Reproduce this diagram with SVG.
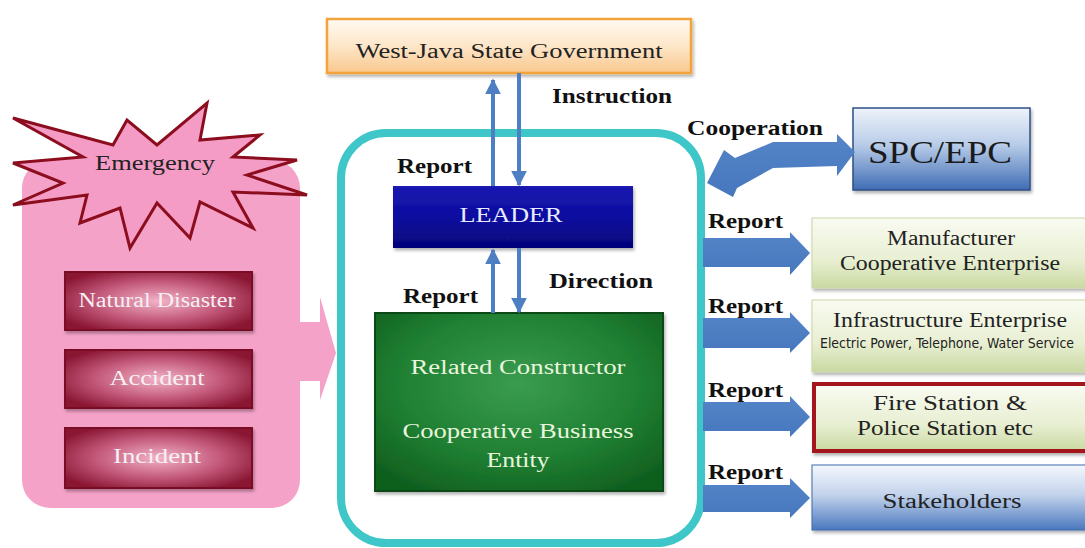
<svg xmlns="http://www.w3.org/2000/svg" width="1085" height="548" viewBox="0 0 1085 548">
<defs>
  <linearGradient id="gGov" x1="0" y1="0" x2="0" y2="1">
    <stop offset="0" stop-color="#fffaf2"/>
    <stop offset="0.5" stop-color="#fde6c8"/>
    <stop offset="1" stop-color="#f9c88e"/>
  </linearGradient>
  <linearGradient id="gLeader" x1="0" y1="0" x2="0" y2="1">
    <stop offset="0" stop-color="#1a1ab0"/>
    <stop offset="0.5" stop-color="#0c0ca0"/>
    <stop offset="1" stop-color="#05057a"/>
  </linearGradient>
  <radialGradient id="gGreen" cx="0.5" cy="0.4" r="0.7">
    <stop offset="0" stop-color="#3a9c50"/>
    <stop offset="0.6" stop-color="#1f7f32"/>
    <stop offset="1" stop-color="#0f5e1e"/>
  </radialGradient>
  <linearGradient id="gSpc" x1="0" y1="0" x2="0" y2="1">
    <stop offset="0" stop-color="#eef3fa"/>
    <stop offset="0.45" stop-color="#b8cce8"/>
    <stop offset="1" stop-color="#3f6db5"/>
  </linearGradient>
  <linearGradient id="gPale" x1="0" y1="0" x2="0" y2="1">
    <stop offset="0" stop-color="#f9fbf2"/>
    <stop offset="0.6" stop-color="#e8efd2"/>
    <stop offset="1" stop-color="#c9d9a2"/>
  </linearGradient>
  <linearGradient id="gStake" x1="0" y1="0" x2="0" y2="1">
    <stop offset="0" stop-color="#f4f7fc"/>
    <stop offset="0.45" stop-color="#c4d4ec"/>
    <stop offset="1" stop-color="#4a78bf"/>
  </linearGradient>
  <radialGradient id="gPinkBox" cx="0.5" cy="0.5" r="0.6">
    <stop offset="0" stop-color="#f2b3c8"/>
    <stop offset="0.55" stop-color="#c45a7c"/>
    <stop offset="1" stop-color="#8a1633"/>
  </radialGradient>
  <linearGradient id="gArrow" x1="0" y1="0" x2="0" y2="1">
    <stop offset="0" stop-color="#5585c8"/>
    <stop offset="1" stop-color="#4677bd"/>
  </linearGradient>
  <marker id="ah" viewBox="0 0 10 10" refX="9" refY="5" markerWidth="4" markerHeight="4" orient="auto">
    <path d="M0,0 L10,5 L0,10 z" fill="#4f7fc3"/>
  </marker>
  <filter id="sh" x="-5%" y="-5%" width="115%" height="125%">
    <feDropShadow dx="1.5" dy="2.5" stdDeviation="1.5" flood-color="#000" flood-opacity="0.3"/>
  </filter>
</defs>
<style>
  .lbl { font-family: "Liberation Serif", serif; font-weight: bold; font-size: 22px; fill: #111; }
  .serif { font-family: "Liberation Serif", serif; font-size: 20px; }
  .dark { fill: #222; }
  .light { fill: #f6f0f2; }
  .flow { stroke: #4f7fc3; stroke-width: 4; fill: none; marker-end: url(#ah); }
  .block { fill: url(#gArrow); }
</style>
<rect width="1085" height="548" fill="#ffffff"/>

<!-- Left emergency group -->
<g id="emergency-panel">
  <rect x="22" y="160" width="278" height="348" rx="28" fill="#f5a2c9"/>
  <polygon points="298,322 320,322 320,297 336,353 320,400 320,381 298,381" fill="#f5a2c9"/>
</g>
<g id="emergency">
  <polygon points="13,118 113,145 127,120 157,145 207,103 200,140 260,135 233,157 297,160 247,175 307,195 233,192 253,228 200,202 190,238 157,203 130,248 120,208 80,223 87,195 13,205 63,183 13,163 83,157" fill="#f59cc6" stroke="#8b0d1e" stroke-width="3" stroke-linejoin="miter"/>
  <text class="serif dark" x="155" y="170" text-anchor="middle" textLength="120" lengthAdjust="spacingAndGlyphs">Emergency</text>
</g>
<g id="natural-disaster">
  <rect x="65" y="272" width="187" height="58" fill="url(#gPinkBox)" stroke="#7a1028" stroke-width="2" filter="url(#sh)"/>
  <text class="serif light" x="157" y="307" text-anchor="middle" textLength="157" lengthAdjust="spacingAndGlyphs">Natural Disaster</text>
</g>
<g id="accident">
  <rect x="65" y="350" width="187" height="58" fill="url(#gPinkBox)" stroke="#7a1028" stroke-width="2" filter="url(#sh)"/>
  <text class="serif light" x="157" y="385" text-anchor="middle" textLength="95" lengthAdjust="spacingAndGlyphs">Accident</text>
</g>
<g id="incident">
  <rect x="65" y="428" width="187" height="60" fill="url(#gPinkBox)" stroke="#7a1028" stroke-width="2" filter="url(#sh)"/>
  <text class="serif light" x="157" y="463" text-anchor="middle" textLength="88" lengthAdjust="spacingAndGlyphs">Incident</text>
</g>

<!-- Central cyan container -->
<g id="organization">
  <rect x="341" y="133" width="360" height="410" rx="45" fill="#ffffff" stroke="#3fc6c9" stroke-width="8"/>
</g>

<g id="government">
  <rect x="327" y="19" width="364" height="54" fill="url(#gGov)" stroke="#f2a33a" stroke-width="2.5" filter="url(#sh)"/>
  <text class="serif dark" x="509" y="58" text-anchor="middle" textLength="307" lengthAdjust="spacingAndGlyphs">West-Java State Government</text>
</g>
<g id="leader">
  <rect x="393" y="186" width="240" height="62" fill="url(#gLeader)" filter="url(#sh)"/>
  <text class="serif" fill="#e8ecff" x="511" y="222" text-anchor="middle" textLength="103" lengthAdjust="spacingAndGlyphs">LEADER</text>
</g>
<g id="constructor">
  <rect x="375" y="313" width="288" height="178" fill="url(#gGreen)" stroke="#0c4a16" stroke-width="2" filter="url(#sh)"/>
  <text class="serif" fill="#eaf6dc" x="518" y="374" text-anchor="middle" textLength="215" lengthAdjust="spacingAndGlyphs">Related Constructor</text>
  <text class="serif" fill="#eaf6dc" x="518" y="438" text-anchor="middle" textLength="231" lengthAdjust="spacingAndGlyphs">Cooperative Business</text>
  <text class="serif" fill="#eaf6dc" x="518" y="467" text-anchor="middle" textLength="63" lengthAdjust="spacingAndGlyphs">Entity</text>
</g>

<!-- Right side nodes -->
<g id="spc-epc">
  <rect x="853" y="108" width="177" height="82" fill="url(#gSpc)" stroke="#2d4f86" stroke-width="1.5" filter="url(#sh)"/>
  <text font-family="Liberation Serif, serif" font-size="31" fill="#1a1a1a" x="940" y="163" text-anchor="middle" textLength="144" lengthAdjust="spacingAndGlyphs">SPC/EPC</text>
</g>
<g id="manufacturer">
  <rect x="812" y="218" width="276" height="70" fill="url(#gPale)" stroke="#c9d6a8" stroke-width="1" filter="url(#sh)"/>
  <text class="serif dark" x="951" y="245" text-anchor="middle" textLength="128" lengthAdjust="spacingAndGlyphs">Manufacturer</text>
  <text class="serif dark" x="950" y="270" text-anchor="middle" textLength="220" lengthAdjust="spacingAndGlyphs">Cooperative Enterprise</text>
</g>
<g id="infrastructure">
  <rect x="812" y="300" width="276" height="72" fill="url(#gPale)" stroke="#c9d6a8" stroke-width="1" filter="url(#sh)"/>
  <text class="serif dark" x="950" y="327" text-anchor="middle" textLength="234" lengthAdjust="spacingAndGlyphs">Infrastructure Enterprise</text>
  <text font-family="Liberation Sans Narrow, DejaVu Sans Condensed, sans-serif" font-size="14" fill="#222" x="947" y="348" text-anchor="middle" textLength="254" lengthAdjust="spacingAndGlyphs">Electric Power, Telephone, Water Service</text>
</g>
<g id="fire-police">
  <rect x="814" y="384" width="273" height="67" fill="url(#gPale)" stroke="#a3141c" stroke-width="4" filter="url(#sh)"/>
  <text class="serif dark" x="950" y="410" text-anchor="middle" textLength="154" lengthAdjust="spacingAndGlyphs">Fire Station &amp;</text>
  <text class="serif dark" x="945" y="435" text-anchor="middle" textLength="176" lengthAdjust="spacingAndGlyphs">Police Station etc</text>
</g>
<g id="stakeholders">
  <rect x="812" y="465" width="276" height="65" fill="url(#gStake)" stroke="#3f6aad" stroke-width="1" filter="url(#sh)"/>
  <text class="serif dark" x="952" y="508" text-anchor="middle" textLength="139" lengthAdjust="spacingAndGlyphs">Stakeholders</text>
</g>

<!-- Connectors -->
<g id="connectors">
  <line class="flow" x1="493" y1="186" x2="493" y2="80"/>
  <line class="flow" x1="519" y1="73" x2="519" y2="185"/>
  <line class="flow" x1="493" y1="313" x2="493" y2="250"/>
  <line class="flow" x1="519" y1="248" x2="519" y2="312"/>
  <polygon class="block" points="855,152 837,134 837,142 773,142 735,158 724,150 707,183 733,197 737,188 773,168 837,166 837,176"/>
  <polygon class="block" points="703,238 790,238 790,232 810,253 790,275 790,267 703,267"/>
  <polygon class="block" points="703,318 790,318 790,312 810,333 790,353 790,348 703,348"/>
  <polygon class="block" points="703,402 790,402 790,396 810,417 790,437 790,431 703,431"/>
  <polygon class="block" points="703,485 790,485 790,478 810,498 790,518 790,512 703,512"/>
  <text class="lbl" x="552" y="103" textLength="120" lengthAdjust="spacingAndGlyphs">Instruction</text>
  <text class="lbl" x="397" y="173" textLength="75" lengthAdjust="spacingAndGlyphs">Report</text>
  <text class="lbl" x="549" y="288" textLength="104" lengthAdjust="spacingAndGlyphs">Direction</text>
  <text class="lbl" x="403" y="303" textLength="75" lengthAdjust="spacingAndGlyphs">Report</text>
  <text class="lbl" x="687" y="135" textLength="136" lengthAdjust="spacingAndGlyphs">Cooperation</text>
  <text class="lbl" x="708" y="228" textLength="75" lengthAdjust="spacingAndGlyphs">Report</text>
  <text class="lbl" x="708" y="313" textLength="75" lengthAdjust="spacingAndGlyphs">Report</text>
  <text class="lbl" x="708" y="397" textLength="75" lengthAdjust="spacingAndGlyphs">Report</text>
  <text class="lbl" x="708" y="479" textLength="75" lengthAdjust="spacingAndGlyphs">Report</text>
</g>
</svg>
